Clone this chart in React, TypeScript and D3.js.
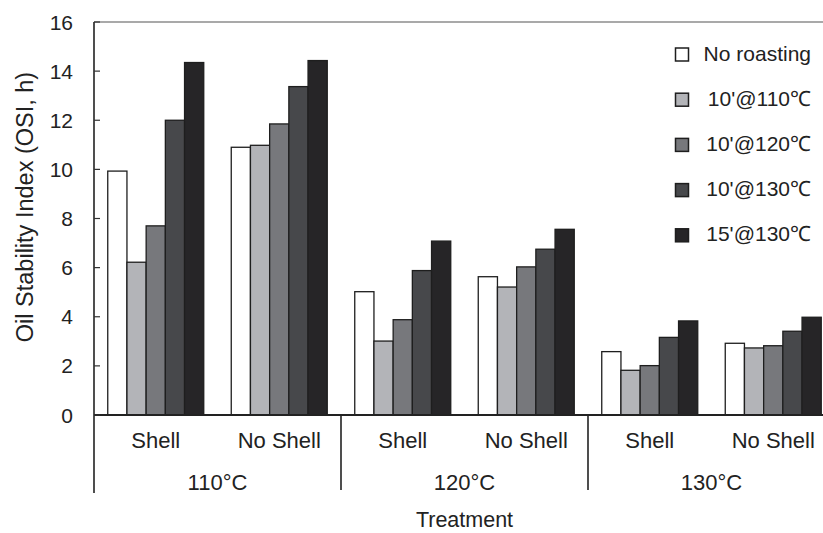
import React from 'react';
import * as d3 from 'd3';

const temps = ['110°C', '120°C', '130°C'];
const shells = ['Shell', 'No Shell'];
const seriesNames = ['No roasting', " 10'@110℃", "10'@120℃", "10'@130℃", "15'@130℃"];
const seriesColors = ['#ffffff', '#b3b4b8', '#77787c', '#47484b', '#262527'];

// one value per (temp, shell) pair, in order 110 Shell, 110 No Shell, 120 Shell, ...
const noRoasting = [9.93, 10.9, 5.02, 5.63, 2.58, 2.92];
const roast10at110 = [6.22, 10.98, 3.01, 5.21, 1.82, 2.73];
const roast10at120 = [7.7, 11.85, 3.88, 6.03, 2.01, 2.82];
const roast10at130 = [12.0, 13.37, 5.88, 6.75, 3.16, 3.41];
const roast15at130 = [14.35, 14.43, 7.08, 7.56, 3.83, 3.98];
const yTicks = [0, 2, 4, 6, 8, 10, 12, 14, 16];

const seriesValues = [noRoasting, roast10at110, roast10at120, roast10at130, roast15at130];

const W = 823;
const H = 533;
const left = 94;
const right = 835;
const top = 22;
const bottom = 415;
const font = '"Liberation Sans", Arial, sans-serif';

const App = () => {
  const cats = temps.flatMap((t) => shells.map((s) => `${t}|${s}`));

  const x0 = d3.scaleBand().domain(cats).range([left, right]).padding(0);
  const xg = d3.scaleBand().domain(temps).range([left, right]).padding(0);
  const x1 = d3
    .scaleBand()
    .domain(seriesNames)
    .range([0, x0.bandwidth()])
    .paddingInner(0)
    .paddingOuter(0.716);
  const y = d3.scaleLinear().domain([0, 16]).range([bottom, top]);

  return (
    <svg
      width={W}
      height={H}
      style={{ position: 'absolute', left: 0, top: 0, background: '#fff' }}
      fontFamily={font}
    >
      {/* bars */}
      {cats.map((c, ci) => (
        <g key={c} transform={`translate(${x0(c)},0)`}>
          {seriesNames.map((s, si) => {
            const v = seriesValues[si][ci];
            return (
              <rect
                key={s}
                x={x1(s)}
                y={y(v)}
                width={x1.bandwidth()}
                height={bottom - y(v)}
                fill={seriesColors[si]}
                stroke="#1e1e1e"
                strokeWidth={1.3}
              />
            );
          })}
        </g>
      ))}

      {/* frame */}
      <line x1={left} x2={W} y1={top} y2={top} stroke="#555" strokeWidth={1.2} />
      <line x1={left} x2={left} y1={top} y2={493} stroke="#222" strokeWidth={1.6} />
      <line x1={left} x2={W} y1={bottom} y2={bottom} stroke="#222" strokeWidth={2} />

      {/* y ticks */}
      {yTicks.map((t) => (
        <g key={t}>
          <line x1={left} x2={left + 6} y1={y(t)} y2={y(t)} stroke="#333" strokeWidth={1.2} />
          <text x={73} y={y(t)} dy="0.36em" textAnchor="end" fontSize={21} fill="#222">
            {t}
          </text>
        </g>
      ))}

      {/* group dividers */}
      {temps.slice(1).map((t) => (
        <line
          key={t}
          x1={xg(t)}
          x2={xg(t)}
          y1={bottom}
          y2={490}
          stroke="#222"
          strokeWidth={1.6}
        />
      ))}

      {/* shell labels */}
      {cats.map((c) => (
        <text
          key={c}
          x={(x0(c) as number) + x0.bandwidth() / 2}
          y={448}
          textAnchor="middle"
          fontSize={22}
          fill="#222"
        >
          {c.split('|')[1]}
        </text>
      ))}

      {/* temp labels */}
      {temps.map((t) => (
        <text
          key={t}
          x={(xg(t) as number) + xg.bandwidth() / 2}
          y={490}
          textAnchor="middle"
          fontSize={22}
          fill="#222"
        >
          {t}
        </text>
      ))}

      <text x={(left + right) / 2} y={527} textAnchor="middle" fontSize={21.5} fill="#222">
        Treatment
      </text>

      <text
        transform={`translate(33,207) rotate(-90)`}
        textAnchor="middle"
        fontSize={23.5}
        fill="#222"
      >
        Oil Stability Index (OSI, h)
      </text>

      {/* legend */}
      {seriesNames.map((s, i) => {
        const base = 60.5 + i * 45.2;
        return (
          <g key={s}>
            <rect
              x={675.5}
              y={base - 12.5}
              width={13}
              height={13}
              fill={seriesColors[i]}
              stroke="#1e1e1e"
              strokeWidth={1.5}
            />
            <text x={811} y={base} textAnchor="end" fontSize={21} fill="#222" style={{ whiteSpace: 'pre' }}>
              {s}
            </text>
          </g>
        );
      })}
    </svg>
  );
};

export default App;
